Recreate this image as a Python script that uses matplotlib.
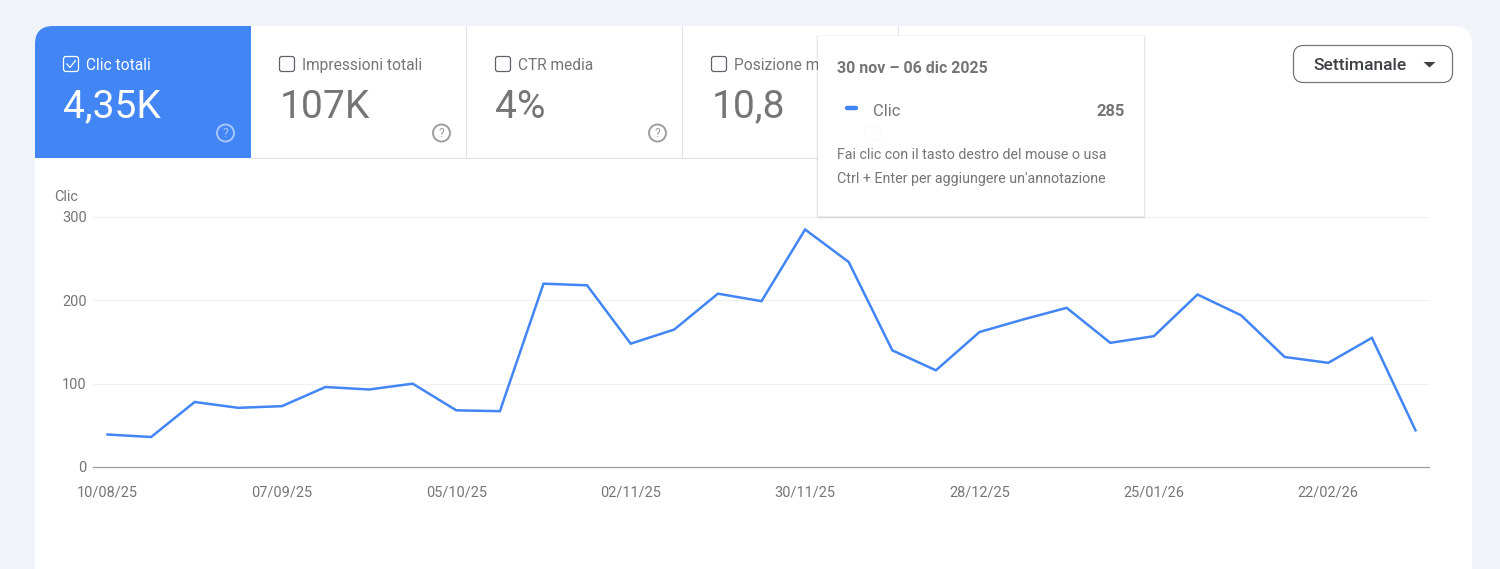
import matplotlib.pyplot as plt
from matplotlib.patches import Circle, FancyBboxPatch, Polygon, Rectangle

clicks = [39, 36, 78, 71, 73, 96, 93, 100, 68, 67, 220, 218, 148, 165, 208, 199,
          285, 246, 140, 116, 162, 177, 191, 149, 157, 207, 182, 132, 125, 155, 44]
tick_labels = ["10/08/25", "07/09/25", "05/10/25", "02/11/25", "30/11/25",
               "28/12/25", "25/01/26", "22/02/26"]
y_ticks = [0, 100, 200, 300]
tile_titles = ["Clic totali", "Impressioni totali", "CTR media", "Posizione media"]
tile_values = ["4,35K", "107K", "4%", "10,8"]

BLUE = "#4285f4"
GREY = "#757575"
W, H = 1500, 569

plt.rcParams["font.family"] = ["Roboto", "DejaVu Sans"]


def px(size):
    # css pixels to points at dpi 100
    return size * 0.72


fig = plt.figure(figsize=(W / 100, H / 100), dpi=100, facecolor="#f0f4f9")

# page layer, coordinates are image pixels
bg = fig.add_axes([0, 0, 1, 1], zorder=0)
bg.set_xlim(0, W)
bg.set_ylim(H, 0)
bg.axis("off")
bg.add_patch(FancyBboxPatch((35, 26), 1437, 640, boxstyle="round,pad=0,rounding_size=18",
                            fc="white", ec="none"))
bg.add_patch(FancyBboxPatch((35, 26), 216, 180, boxstyle="round,pad=0,rounding_size=18",
                            fc=BLUE, ec="none"))
bg.add_patch(Rectangle((53, 26), 198, 132, fc=BLUE, ec="none"))
bg.add_patch(Rectangle((35, 44), 216, 114, fc=BLUE, ec="none"))
bg.add_patch(Rectangle((35, 158), 216, 60, fc="white", ec="none"))
bg.plot([251, 898], [157.5, 157.5], color="#e3e3e3", lw=0.8)
for x in [466, 682, 898]:
    bg.plot([x, x], [26, 157.5], color="#e3e3e3", lw=0.8)

for i, (title, value) in enumerate(zip(tile_titles, tile_values)):
    left = 35 + i * 216
    fg = "white" if i == 0 else GREY
    box_ec = "white" if i == 0 else "#5f6368"
    bg.add_patch(FancyBboxPatch((left + 28.5, 56.5), 15, 15, boxstyle="round,pad=0,rounding_size=2.5",
                                fc="none", ec=box_ec, lw=0.9))
    if i == 0:
        bg.plot([left + 32, left + 35, left + 40.5], [64, 67.5, 60.5], color="white", lw=0.9)
    bg.text(left + 51, 65, title, color=fg, fontsize=px(15.5), va="center", ha="left")
    bg.text(left + 28.5, 107, value, color=fg, fontsize=px(39), va="center", ha="left")
    icon_x = left + 190.5
    icon_col = "#a9c6fa" if i == 0 else "#9e9e9e"
    bg.add_patch(Circle((icon_x, 133), 8.5, fc="none", ec=icon_col, lw=1.4))
    bg.text(icon_x, 133.5, "?", color=icon_col, fontsize=px(12.5), va="center", ha="center")

# dropdown
bg.add_patch(FancyBboxPatch((1293.5, 45.5), 159, 37, boxstyle="round,pad=0,rounding_size=10",
                            fc="white", ec="#757575", lw=0.9))
bg.text(1313, 65, "Settimanale", color="#3c4043", fontsize=px(17.4), va="center", ha="left",
        fontweight="medium")
bg.add_patch(Polygon([(1423.5, 62), (1435.5, 62), (1429.5, 67.5)], fc="#3c4043", ec="none"))

# chart
ax = fig.add_axes([93 / W, 1 - 467 / H, 1336 / W, 250 / H], zorder=1)
ax.patch.set_alpha(0)
ax.plot(range(len(clicks)), clicks, color=BLUE, lw=1.8, solid_joinstyle="miter", zorder=3)
ax.set_xlim((93 - 107.5) / 43.6, (1429 - 107.5) / 43.6)
ax.set_ylim(0, 300)
ax.set_yticks(y_ticks)
ax.set_xticks(range(0, 4 * len(tick_labels), 4), tick_labels)
ax.grid(axis="y", color="#f0f0f0", lw=0.8)
ax.set_axisbelow(True)
for name in ["top", "right", "left"]:
    ax.spines[name].set_visible(False)
ax.spines["bottom"].set_color("#9e9e9e")
ax.spines["bottom"].set_linewidth(0.9)
ax.tick_params(axis="both", length=0, labelsize=px(14.5), labelcolor=GREY)
ax.tick_params(axis="x", pad=13)
ax.tick_params(axis="y", pad=4.5)
ax.text(54, 197, "Clic", transform=bg.transData, color=GREY, fontsize=px(14.5), va="center", ha="left")

# tooltip on top of everything
ui = fig.add_axes([0, 0, 1, 1], zorder=2)
ui.set_xlim(0, W)
ui.set_ylim(H, 0)
ui.axis("off")
for grow, alpha in [(2, 0.03), (1, 0.06)]:
    ui.add_patch(Rectangle((818 - grow, 36 - grow + 0.5), 326 + 2 * grow, 180 + 2 * grow,
                           fc="black", ec="none", alpha=alpha))
ui.add_patch(Rectangle((818, 36), 326, 180, fc="white", ec="none"))
ui.add_patch(Circle((873, 133), 8, fc="none", ec="#f9f9f9", lw=1.0))
ui.text(837, 68, "30 nov – 06 dic 2025", color=GREY, fontsize=px(16), fontweight="bold",
        va="center", ha="left")
ui.plot([847, 856], [108, 108], color=BLUE, lw=3.2, solid_capstyle="round")
ui.text(873.5, 111.5, "Clic", color=GREY, fontsize=px(16.5), va="center", ha="left")
ui.text(1125, 111.5, "285", color=GREY, fontsize=px(16.5), fontweight="bold", va="center", ha="right")
ui.text(837, 155, "Fai clic con il tasto destro del mouse o usa", color=GREY, fontsize=px(14.3),
        va="center", ha="left")
ui.text(837, 179, "Ctrl + Enter per aggiungere un'annotazione", color=GREY, fontsize=px(14.3),
        va="center", ha="left")

fig.savefig("out.png", dpi=100, facecolor=fig.get_facecolor())
